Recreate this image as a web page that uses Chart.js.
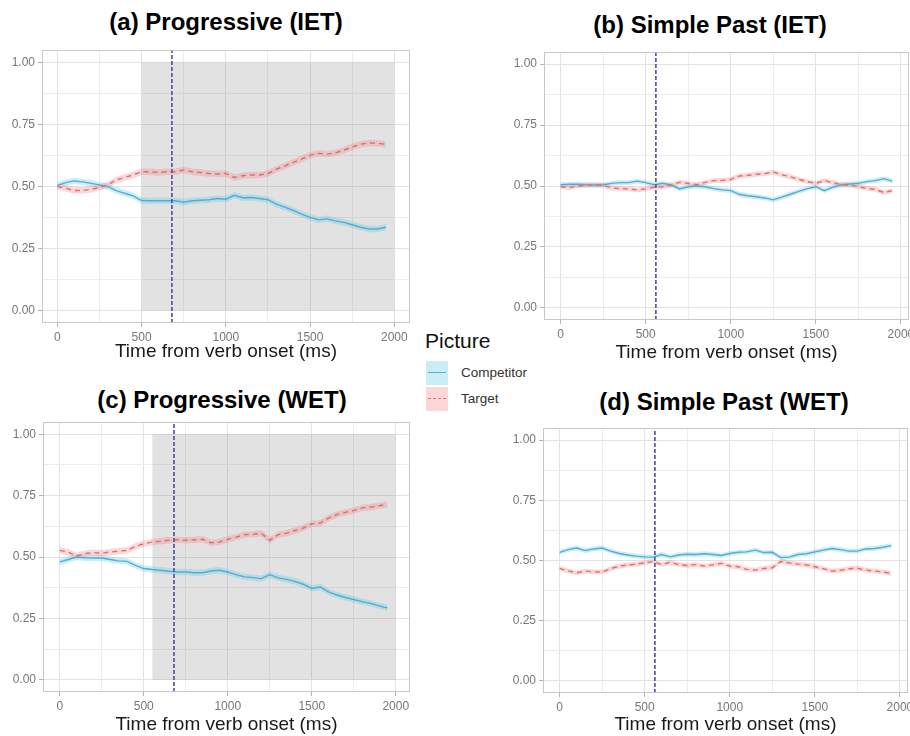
<!DOCTYPE html>
<html>
<head>
<meta charset="utf-8">
<script src="https://cdn.jsdelivr.net/npm/chart.js@4.4.1/dist/chart.umd.min.js"></script>
<style>
  html, body { margin: 0; padding: 0; background: #fff; }
  body { width: 910px; height: 736px; overflow: hidden; position: relative; font-family: "Liberation Sans", Arial, sans-serif; }
  canvas { position: absolute; }
  .title { position: absolute; width: 400px; text-align: center; font-weight: bold; font-size: 24px; line-height: 24px; color: #000; }
  .legend-head { position: absolute; left: 425px; top: 329px; font-size: 21px; color: #111; }
  .key { position: absolute; left: 426px; width: 22px; height: 24px; }
  .key span { position: absolute; left: 2px; right: 2px; top: 11px; }
  .key-label { position: absolute; left: 461px; font-size: 13.5px; color: #333; line-height: 16px; }
</style>
</head>
<body>
<div class="title" style="left:26px;top:10px">(a) Progressive (IET)</div>
<div class="title" style="left:510px;top:13px">(b) Simple Past (IET)</div>
<div class="title" style="left:22px;top:388px">(c) Progressive (WET)</div>
<div class="title" style="left:524px;top:390px">(d) Simple Past (WET)</div>

<div class="legend-head">Picture</div>
<div class="key" style="top:361px;background:rgba(110,200,235,0.35)"><span style="border-top:1.5px solid #55b3d3"></span></div>
<div class="key-label" style="top:365px">Competitor</div>
<div class="key" style="top:387px;background:rgba(245,130,130,0.32)"><span style="border-top:1.5px dashed #e07070"></span></div>
<div class="key-label" style="top:391px">Target</div>

<canvas id="chartA" width="420" height="326" style="left:0;top:40px"></canvas>
<canvas id="chartB" width="430" height="326" style="left:490px;top:40px"></canvas>
<canvas id="chartC" width="420" height="328" style="left:0;top:408px"></canvas>
<canvas id="chartD" width="430" height="328" style="left:490px;top:408px"></canvas>

<script>
// time bins (ms from verb onset)
const timeMs = [0, 50, 100, 150, 200, 250, 300, 350, 400, 450, 500, 550, 600, 650, 700, 750, 800, 850, 900, 950,
  1000, 1050, 1100, 1150, 1200, 1250, 1300, 1350, 1400, 1450, 1500, 1550, 1600, 1650, 1700, 1750, 1800, 1850, 1900, 1950];

// (a) Progressive (IET)
const progIetCompetitor = [0.505, 0.516, 0.523, 0.519, 0.513, 0.507, 0.500, 0.484, 0.473, 0.463, 0.444, 0.443, 0.443, 0.443, 0.443, 0.437, 0.443, 0.445, 0.447, 0.452,
  0.449, 0.465, 0.455, 0.456, 0.452, 0.447, 0.429, 0.417, 0.404, 0.389, 0.376, 0.366, 0.370, 0.362, 0.356, 0.346, 0.336, 0.329, 0.329, 0.336];
const progIetTarget = [0.500, 0.493, 0.484, 0.484, 0.489, 0.496, 0.507, 0.527, 0.537, 0.547, 0.560, 0.560, 0.557, 0.560, 0.560, 0.567, 0.560, 0.557, 0.553, 0.551,
  0.553, 0.537, 0.544, 0.547, 0.547, 0.553, 0.570, 0.583, 0.598, 0.611, 0.627, 0.634, 0.631, 0.636, 0.647, 0.660, 0.671, 0.676, 0.675, 0.670];

// (b) Simple Past (IET)
const pastIetCompetitor = [0.505, 0.507, 0.507, 0.505, 0.504, 0.505, 0.511, 0.514, 0.514, 0.520, 0.514, 0.505, 0.511, 0.504, 0.488, 0.497, 0.500, 0.497, 0.489, 0.484,
  0.481, 0.466, 0.460, 0.456, 0.451, 0.443, 0.454, 0.466, 0.478, 0.489, 0.497, 0.481, 0.495, 0.505, 0.508, 0.511, 0.518, 0.522, 0.530, 0.520];
const pastIetTarget = [0.497, 0.493, 0.500, 0.503, 0.504, 0.503, 0.492, 0.489, 0.488, 0.484, 0.488, 0.495, 0.497, 0.504, 0.515, 0.511, 0.505, 0.515, 0.522, 0.523,
  0.527, 0.541, 0.544, 0.548, 0.551, 0.557, 0.546, 0.538, 0.527, 0.518, 0.511, 0.522, 0.514, 0.505, 0.504, 0.497, 0.490, 0.486, 0.473, 0.481];

// (c) Progressive (WET)
const progWetCompetitor = [0.480, 0.490, 0.500, 0.497, 0.496, 0.496, 0.490, 0.484, 0.482, 0.466, 0.453, 0.449, 0.446, 0.442, 0.439, 0.439, 0.436, 0.436, 0.443, 0.446,
  0.439, 0.428, 0.419, 0.416, 0.412, 0.428, 0.415, 0.409, 0.401, 0.389, 0.372, 0.378, 0.358, 0.345, 0.335, 0.327, 0.318, 0.311, 0.301, 0.293];
const progWetTarget = [0.527, 0.520, 0.504, 0.514, 0.518, 0.516, 0.520, 0.524, 0.527, 0.543, 0.554, 0.561, 0.564, 0.568, 0.570, 0.568, 0.570, 0.572, 0.558, 0.561,
  0.572, 0.581, 0.591, 0.592, 0.597, 0.568, 0.591, 0.597, 0.608, 0.618, 0.635, 0.638, 0.658, 0.673, 0.682, 0.689, 0.700, 0.703, 0.709, 0.714];

// (d) Simple Past (WET)
const pastWetCompetitor = [0.534, 0.545, 0.552, 0.541, 0.548, 0.552, 0.539, 0.529, 0.523, 0.518, 0.515, 0.514, 0.525, 0.515, 0.523, 0.526, 0.525, 0.528, 0.525, 0.521,
  0.529, 0.534, 0.536, 0.543, 0.533, 0.534, 0.512, 0.514, 0.525, 0.528, 0.536, 0.543, 0.550, 0.545, 0.539, 0.539, 0.548, 0.550, 0.555, 0.562];
const pastWetTarget = [0.467, 0.457, 0.449, 0.456, 0.453, 0.452, 0.466, 0.477, 0.481, 0.485, 0.490, 0.496, 0.483, 0.493, 0.483, 0.479, 0.483, 0.477, 0.482, 0.488,
  0.477, 0.474, 0.463, 0.460, 0.467, 0.470, 0.496, 0.490, 0.485, 0.482, 0.474, 0.466, 0.456, 0.459, 0.466, 0.468, 0.460, 0.456, 0.453, 0.446];

// standard-error half widths of the ribbons
const seProg = 0.013;
const sePast = 0.010;

// shaded analysis windows and verb-offset markers (ms)
const progIetWindow = [500, 2000];
const progWetWindow = [550, 2000];
const progVerbMark = 680;
const pastVerbMark = 560;

Chart.defaults.font.family = '"Liberation Sans", Arial, sans-serif';
Chart.defaults.animation = false;

const panelBorder = {
  id: 'panelBorder',
  afterDatasetsDraw(chart) {
    const { ctx, chartArea: a } = chart;
    ctx.save();
    ctx.strokeStyle = '#c8c8c8';
    ctx.lineWidth = 1;
    ctx.strokeRect(Math.round(a.left) + 0.5, Math.round(a.top) + 0.5, Math.round(a.width) - 1, Math.round(a.height) - 1);
    ctx.restore();
  }
};

const isMajorX = v => v % 500 === 0;
const isMajorY = v => Math.abs(v * 4 - Math.round(v * 4)) < 1e-9;

function makePanel(id, p) {
  const pts = vals => timeMs.map((t, i) => ({ x: t, y: vals[i] }));
  const band = (vals, d) => timeMs.map((t, i) => ({ x: t, y: vals[i] + d }));
  const datasets = [];
  if (p.window) {
    datasets.push({ data: [{ x: p.window[0], y: 1 }, { x: p.window[1], y: 1 }], fill: 'origin',
      backgroundColor: 'rgba(140,140,140,0.25)', borderWidth: 0, pointRadius: 0, order: 10 });
  }
  datasets.push(
    { data: band(p.competitor, p.se), borderWidth: 0, pointRadius: 0, order: 6 },
    { data: band(p.competitor, -p.se), borderWidth: 0, pointRadius: 0, fill: '-1', backgroundColor: 'rgba(110,200,235,0.35)', order: 6 },
    { data: band(p.target, p.se), borderWidth: 0, pointRadius: 0, order: 5 },
    { data: band(p.target, -p.se), borderWidth: 0, pointRadius: 0, fill: '-1', backgroundColor: 'rgba(245,130,130,0.32)', order: 5 },
    { data: pts(p.competitor), borderColor: '#52aed0', borderWidth: 1.4, pointRadius: 0, fill: false, order: 3 },
    { data: pts(p.target), borderColor: '#dd6f6f', borderWidth: 1.4, borderDash: [5, 4], pointRadius: 0, fill: false, order: 2 },
    { data: [{ x: p.mark, y: -0.05 }, { x: p.mark, y: 1.05 }], borderColor: '#5656a6', borderWidth: 1.7, borderDash: [4, 2], pointRadius: 0, fill: false, order: 1 }
  );

  new Chart(document.getElementById(id), {
    type: 'line',
    data: { datasets },
    plugins: [panelBorder],
    options: {
      responsive: false,
      devicePixelRatio: 1,
      layout: { padding: p.pad },
      plugins: { legend: { display: false }, tooltip: { enabled: false } },
      scales: {
        x: {
          type: 'linear', min: p.xMin, max: p.xMax,
          afterFit: s => { s.height = p.xHeight; },
          border: { display: false },
          grid: {
            color: c => isMajorX(c.tick.value) ? '#e2e2e2' : '#ececec',
            tickColor: c => isMajorX(c.tick.value) ? '#b4b4b4' : 'rgba(0,0,0,0)',
            tickLength: 4
          },
          ticks: {
            stepSize: 250, autoSkip: false, includeBounds: false, maxTicksLimit: 20, maxRotation: 0,
            padding: 3, color: '#777', font: { size: 12 },
            callback: v => isMajorX(v) ? String(v) : ''
          },
          title: { display: true, text: 'Time from verb onset (ms)', color: '#1a1a1a', font: { size: 19 }, padding: { top: 0, bottom: p.titlePad } }
        },
        y: {
          min: -0.05, max: 1.05,
          afterFit: s => { s.width = p.yWidth; },
          border: { display: false },
          grid: {
            color: c => isMajorY(c.tick.value) ? '#e2e2e2' : '#ececec',
            tickColor: c => isMajorY(c.tick.value) ? '#b4b4b4' : 'rgba(0,0,0,0)',
            tickLength: 4
          },
          ticks: {
            stepSize: 0.125, autoSkip: false, includeBounds: false, maxTicksLimit: 20,
            padding: 3, color: '#777', font: { size: 12 },
            callback: v => isMajorY(v) ? v.toFixed(2) : ''
          }
        }
      }
    }
  });
}

makePanel('chartA', { competitor: progIetCompetitor, target: progIetTarget, se: seProg, window: progIetWindow, mark: progVerbMark,
  xMin: -91, xMax: 2093, pad: { top: 10, right: 10, left: 0, bottom: 0 }, yWidth: 42, xHeight: 43, titlePad: 3 });
makePanel('chartB', { competitor: pastIetCompetitor, target: pastIetTarget, se: sePast, window: null, mark: pastVerbMark,
  xMin: -97.5, xMax: 2047.5, pad: { top: 12, right: 11, left: 0, bottom: 0 }, yWidth: 54, xHeight: 46, titlePad: 2 });
makePanel('chartC', { competitor: progWetCompetitor, target: progWetTarget, se: seProg, window: progWetWindow, mark: progVerbMark,
  xMin: -100, xMax: 2085, pad: { top: 14, right: 10, left: 0, bottom: 0 }, yWidth: 43, xHeight: 44, titlePad: 0 });
makePanel('chartD', { competitor: pastWetCompetitor, target: pastWetTarget, se: sePast, window: null, mark: pastVerbMark,
  xMin: -97.5, xMax: 2047.5, pad: { top: 20, right: 12, left: 0, bottom: 0 }, yWidth: 53, xHeight: 43, titlePad: 0 });
</script>
</body>
</html>
